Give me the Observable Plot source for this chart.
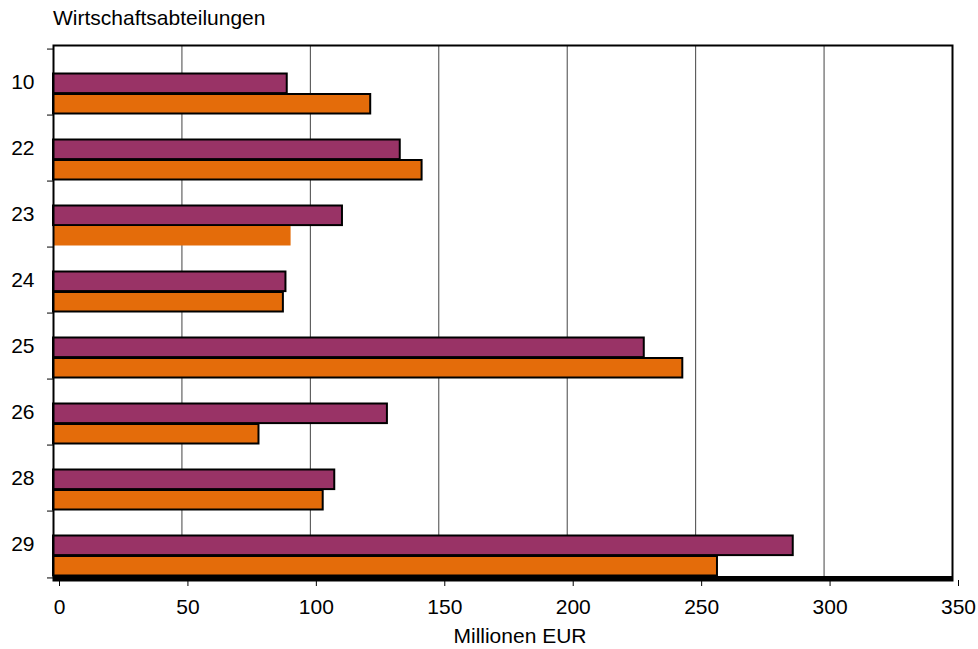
<!DOCTYPE html>
<html>
<head>
<meta charset="utf-8">
<script src="https://cdn.jsdelivr.net/npm/d3@7"></script>
<script src="https://cdn.jsdelivr.net/npm/@observablehq/plot@0.6"></script>
<style>
  html, body { margin: 0; padding: 0; background: white; }
  #wrap { position: relative; width: 978px; height: 649px; font-family: "Liberation Sans", Arial, sans-serif; }
  #title { position: absolute; left: 53px; top: 7px; font-size: 21px; line-height: 21px; color: #000; white-space: nowrap; }
  #xlabel { position: absolute; left: 400px; width: 240px; top: 625px; text-align: center; font-size: 21px; line-height: 21px; color: #000; white-space: nowrap; }
  #chart { position: absolute; left: 0; top: 0; }
</style>
</head>
<body>
<div id="wrap">
  <div id="chart"></div>
  <div id="title">Wirtschaftsabteilungen</div>
  <div id="xlabel">Millionen EUR</div>
</div>
<script>
// Wirtschaftsabteilungen (categories)
const categories = ["10", "22", "23", "24", "25", "26", "28", "29"];
// first series (purple bars)
const seriesA = [91, 135, 112.5, 90.5, 230, 130, 109.5, 288];
// second series (orange bars)
const seriesB = [123.5, 143.5, 92.5, 89.5, 245, 80, 105, 258.5];
// x-axis ticks
const xTicks = [0, 50, 100, 150, 200, 250, 300, 350];

const rows = categories.map((c, i) => ({cat: c, a: seriesA[i], b: seriesB[i]}));

const W = 978, H = 649, mL = 53, mR = 26, mT = 45, mB = 69;
const bw = (H - mT - mB) / categories.length;
const pxPerUnit = (W - mL - mR) / (xTicks[xTicks.length - 1] - xTicks[0]);
const tickLen = 6 / pxPerUnit;
const lastCat = categories[categories.length - 1];

const chart = Plot.plot({
  width: W, height: H,
  marginLeft: mL, marginRight: mR, marginTop: mT, marginBottom: mB,
  style: {fontFamily: "'Liberation Sans', Arial, sans-serif", fontSize: "21px", color: "black", background: "white"},
  x: {domain: [xTicks[0], xTicks[xTicks.length - 1]]},
  y: {domain: categories, padding: 0},
  marks: [
    Plot.gridX(xTicks, {stroke: "#444", strokeOpacity: 1, strokeWidth: 1}),
    Plot.barX(rows, {y: "cat", x: "a", fill: "#993366", stroke: "black", strokeWidth: 2, insetTop: 24.5, insetBottom: 21.9}),
    Plot.barX(rows, {filter: d => d.cat !== "23", y: "cat", x: "b", fill: "#E46C0A", stroke: "black", strokeWidth: 2, insetTop: 45, insetBottom: 1.5}),
    Plot.barX(rows, {filter: d => d.cat === "23", y: "cat", x: "b", fill: "#E46C0A", insetTop: 45, insetBottom: 1.5}),
    Plot.frame({stroke: "black", strokeWidth: 2}),
    Plot.ruleY([lastCat], {dy: bw / 2, stroke: "black", strokeWidth: 4}),
    Plot.ruleY(categories, {dy: -bw / 2, x1: -tickLen, x2: 0, stroke: "black", strokeWidth: 1}),
    Plot.ruleY([lastCat], {dy: bw / 2, x1: -tickLen, x2: 0, stroke: "black", strokeWidth: 1}),
    Plot.axisX(xTicks, {tickSize: 6, tickPadding: 13, dx: 6, label: null, fontSize: 21}),
    Plot.axisY({tickSize: 0, tickPadding: 19, label: null, fontSize: 21})
  ]
});
document.getElementById("chart").appendChild(chart);
</script>
</body>
</html>
